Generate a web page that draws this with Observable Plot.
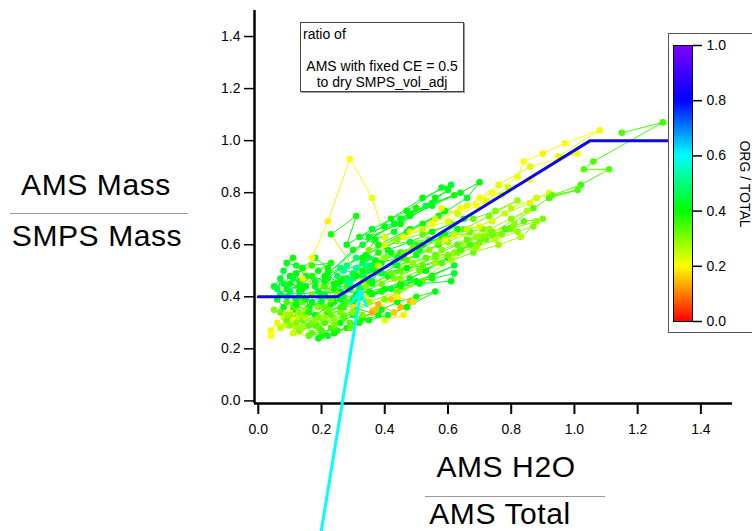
<!DOCTYPE html>
<html><head><meta charset="utf-8">
<script src="https://cdn.jsdelivr.net/npm/d3@7"></script>
<script src="https://cdn.jsdelivr.net/npm/@observablehq/plot@0.6"></script>
<style>
html,body{margin:0;padding:0;background:#fff;}
#wrap{position:relative;width:752px;height:531px;overflow:hidden;font-family:"Liberation Sans",Arial,sans-serif;color:#000;}
#wrap svg{position:absolute;}
#note{position:absolute;left:300px;top:22px;width:162px;height:65px;padding-top:3px;border:1px solid #444;box-shadow:1px 1px 0 #999;background:#fff;font-size:14px;line-height:16px;}
#note .l{padding-left:2px;}
#note .c{text-align:center;}
#legendBox{position:absolute;left:668px;top:33px;width:120px;height:298px;border:1px solid #555;background:#fff;}
#legendTitle{position:absolute;left:745px;top:184px;transform:translate(-50%,-50%) rotate(90deg);white-space:nowrap;font-size:14px;}
</style>
</head><body>
<div id="wrap">
  <div id="note"><div class="l">ratio of</div><div>&nbsp;</div><div class="c">AMS with fixed CE = 0.5</div><div class="c">to dry SMPS_vol_adj</div></div>
  <div id="legendBox"></div>
  <div id="legendTitle">ORG / TOTAL</div>
</div>
<script>
// ---- data: time series of AMS H2O/Total (x), AMS/SMPS mass ratio (y), ORG/TOTAL (colour) ----
const waterFrac = [
  0.05,0.07,0.06,0.08,0.10,0.12,0.11,0.13,0.15,0.12,0.09,0.11,0.08,0.06,0.09,0.13,0.15,0.19,0.23,0.17,0.12,0.16,0.20,0.26,0.23,0.18,
  0.12,0.08,0.10,0.13,0.11,0.09,0.06,0.04,0.04,0.07,0.10,0.14,0.17,0.20,0.23,0.19,0.15,0.11,0.13,0.21,0.26,0.29,
  0.22,0.33,0.45,0.55,0.62,0.50,0.39,0.30,0.42,0.53,0.60,0.48,0.36,0.27,0.38,0.32,
  0.30,0.34,0.38,0.43,0.48,0.46,0.40,0.36,
  0.24,0.28,0.33,0.39,0.44,0.50,0.56,0.47,0.41,0.35,0.30,0.26,0.19,0.22,
  0.14,0.17,0.21,0.25,0.28,0.32,0.27,0.23,0.19,0.15,0.12,0.09,0.07,0.10,0.16,
  0.05,0.09,0.13,0.17,0.21,0.27,0.35,0.44,0.52,0.40,0.31,0.24,0.19,
  0.25,0.28,0.31,0.27,0.33,0.30,0.35,0.32,0.29,
  0.20,0.24,0.28,0.33,0.37,0.42,0.46,0.50,0.44,0.39,0.34,0.29,0.26,0.31,0.36,0.41,0.47,0.30,0.40,0.51,0.61,0.62,0.55,0.45,0.35,
  0.07,0.10,0.14,0.18,0.22,0.25,0.21,0.17,0.13,0.10,0.08,0.12,0.16,0.20,0.24,0.27,0.22,0.18,0.14,0.11,0.09,0.13,0.17,0.21,0.19,0.15,
  0.09,0.12,0.15,0.18,0.21,0.24,0.27,0.30,0.26,0.22,0.18,0.14,0.11,0.16,0.20,0.25,0.29,0.33,0.28,0.23,
  0.22,0.26,0.30,0.34,0.38,0.36,0.32,0.28,0.24,0.27,0.31,0.35,0.39,0.33,
  0.31,0.38,0.45,0.52,0.58,0.63,0.57,0.50,0.43,0.37,0.41,0.48,0.55,0.61,0.65,0.59,0.51,0.44,0.36,0.33,
  0.34,0.42,0.49,0.56,0.63,0.69,0.64,0.58,0.51,0.45,0.39,0.47,0.54,0.60,0.67,0.71,0.62,0.53,
  0.18,0.30,0.43,0.55,0.62,0.48,0.33,0.21,0.34,0.47,0.59,0.52,0.38,0.26,
  0.56,0.63,0.69,0.75,0.82,0.87,0.83,0.76,0.68,0.61,0.66,0.73,0.80,0.85,
  0.42,0.45,0.49,0.44,0.37,
  0.14,0.17,0.22,0.29,0.36,0.40,0.38,0.33,
  0.23,0.31,0.28,0.36,0.47,0.58,0.61,0.52,0.42,0.35,0.45,0.55,0.64,0.70,0.66,0.57,0.48,0.38,0.32,0.40,0.48,0.56,0.60,0.53,0.45,0.50,0.43,0.37,
  0.35,0.44,0.52,0.61,0.68,0.75,0.82,0.73,0.65,0.57,0.49,0.40,0.46,0.54,
  0.40,0.48,0.56,0.64,0.72,0.79,0.86,0.77,0.69,0.60,0.52,0.46,
  0.55,0.66,0.74,0.82,0.84,0.90,0.97,1.08,0.95,1.01,0.86,0.76,0.70,0.63,0.58,
  0.45,0.56,0.64,0.72,0.80,0.84,0.90,0.88,0.74,0.67,0.60,0.52,0.43,
  0.58,0.66,0.74,0.81,0.79,0.71,0.63,0.70,0.77,
  0.62,0.70,0.78,0.86,0.92,0.88,0.80,0.74,0.66,0.59,
  0.78,0.87,0.92,1.01,0.93,1.02,1.11,1.03,1.06,1.28,1.15
];
const massRatio = [
  0.44,0.47,0.39,0.36,0.42,0.39,0.35,0.42,0.48,0.52,0.53,0.55,0.50,0.43,0.40,0.46,0.44,0.50,0.53,0.52,0.49,0.36,0.38,0.42,0.37,0.33,
  0.28,0.32,0.34,0.32,0.31,0.29,0.30,0.27,0.25,0.28,0.33,0.31,0.26,0.25,0.28,0.32,0.35,0.37,0.27,0.30,0.34,0.30,
  0.34,0.40,0.44,0.48,0.52,0.46,0.42,0.38,0.43,0.50,0.55,0.47,0.41,0.37,0.33,0.30,
  0.36,0.40,0.37,0.34,0.38,0.33,0.31,0.34,
  0.26,0.28,0.32,0.35,0.38,0.40,0.42,0.36,0.33,0.31,0.33,0.30,0.24,0.25,
  0.38,0.41,0.44,0.41,0.44,0.42,0.36,0.33,0.36,0.33,0.36,0.38,0.34,0.29,0.29,
  0.35,0.31,0.34,0.30,0.36,0.33,0.38,0.42,0.46,0.39,0.35,0.31,0.28,
  0.48,0.52,0.55,0.50,0.53,0.47,0.50,0.44,0.45,
  0.41,0.45,0.47,0.50,0.54,0.57,0.55,0.60,0.52,0.49,0.46,0.43,0.39,0.41,0.45,0.48,0.51,0.39,0.43,0.45,0.46,0.49,0.47,0.45,0.42,
  0.41,0.45,0.43,0.46,0.49,0.45,0.41,0.38,0.40,0.48,0.45,0.37,0.34,0.40,0.38,0.47,0.51,0.55,0.51,0.47,0.43,0.44,0.48,0.46,0.42,0.39,
  0.33,0.30,0.32,0.29,0.32,0.29,0.32,0.34,0.36,0.35,0.31,0.28,0.26,0.25,0.27,0.27,0.28,0.33,0.38,0.39,
  0.47,0.51,0.49,0.52,0.50,0.46,0.43,0.46,0.43,0.40,0.51,0.55,0.53,0.48,
  0.48,0.53,0.57,0.60,0.63,0.66,0.60,0.56,0.53,0.50,0.58,0.61,0.65,0.68,0.70,0.64,0.58,0.55,0.52,0.55,
  0.44,0.49,0.53,0.56,0.60,0.63,0.58,0.53,0.50,0.47,0.45,0.54,0.58,0.61,0.65,0.66,0.57,0.55,
  0.44,0.58,0.68,0.75,0.79,0.72,0.60,0.48,0.56,0.65,0.73,0.68,0.57,0.46,
  0.53,0.57,0.59,0.62,0.65,0.67,0.63,0.60,0.57,0.54,0.61,0.66,0.70,0.73,
  0.39,0.36,0.38,0.40,0.35,
  0.47,0.55,0.69,0.93,0.78,0.63,0.52,0.46,
  0.64,0.71,0.60,0.66,0.73,0.82,0.83,0.78,0.70,0.63,0.68,0.76,0.80,0.84,0.78,0.71,0.66,0.60,0.63,0.67,0.71,0.78,0.81,0.75,0.70,0.74,0.65,0.62,
  0.58,0.62,0.64,0.68,0.70,0.73,0.77,0.71,0.66,0.61,0.59,0.55,0.57,0.62,
  0.60,0.65,0.70,0.74,0.77,0.82,0.85,0.79,0.75,0.69,0.66,0.63,
  0.68,0.75,0.80,0.86,0.92,0.95,0.99,1.04,0.94,0.95,0.90,0.83,0.78,0.72,0.74,
  0.50,0.55,0.58,0.62,0.66,0.69,0.70,0.69,0.64,0.60,0.56,0.52,0.47,
  0.58,0.62,0.65,0.68,0.66,0.63,0.60,0.61,0.64,
  0.64,0.67,0.72,0.76,0.80,0.78,0.74,0.69,0.66,0.62,
  0.66,0.74,0.78,0.81,0.79,0.83,0.89,0.89,0.92,1.07,1.03
];
const orgFrac = [
  .43,.44,.42,.41,.45,.43,.40,.44,.42,.43,.41,.39,.44,.46,.45,.42,.40,.41,.38,.36,.40,.43,.44,.41,.39,.42,
  .26,.22,.21,.24,.20,.23,.22,.21,.20,.25,.29,.31,.33,.38,.35,.30,.28,.32,.30,.34,.31,.33,
  .40,.42,.39,.41,.43,.40,.38,.41,.44,.40,.39,.42,.40,.43,.41,.39,
  .17,.22,.14,.16,.15,.19,.22,.13,
  .40,.41,.39,.42,.40,.38,.41,.40,.43,.39,.42,.40,.41,.42,
  .33,.31,.35,.30,.34,.32,.36,.33,.30,.34,.31,.35,.32,.29,.33,
  .30,.32,.29,.31,.33,.30,.28,.31,.33,.30,.32,.29,.31,
  .46,.50,.48,.53,.45,.49,.44,.47,.51,
  .42,.40,.44,.38,.41,.43,.40,.37,.42,.44,.39,.41,.43,.40,.38,.42,.40,.41,.40,.42,.41,.43,.39,.40,.41,
  .44,.42,.40,.43,.41,.39,.44,.42,.45,.40,.43,.41,.38,.42,.40,.37,.41,.43,.39,.44,.42,.40,.38,.41,.43,.39,
  .27,.30,.26,.33,.28,.31,.34,.30,.36,.32,.29,.27,.24,.33,.35,.37,.32,.30,.34,.31,
  .44,.48,.46,.50,.45,.43,.47,.49,.42,.45,.52,.47,.44,.46,
  .40,.42,.38,.41,.43,.40,.37,.42,.44,.39,.41,.43,.40,.38,.42,.41,.39,.42,.44,.40,
  .30,.32,.29,.33,.31,.28,.30,.34,.32,.29,.31,.33,.30,.28,.32,.31,.29,.33,
  .42,.40,.43,.41,.39,.42,.44,.40,.41,.43,.40,.42,.39,.41,
  .28,.31,.27,.25,.29,.30,.26,.28,.31,.27,.25,.28,.30,.26,
  .16,.14,.17,.19,.15,
  .21,.20,.19,.20,.21,.23,.24,.26,
  .38,.39,.41,.43,.40,.42,.44,.41,.39,.42,.40,.43,.41,.40,.42,.44,.41,.40,.42,.43,.41,.40,.42,.44,.41,.39,.42,.40,
  .31,.30,.33,.29,.32,.30,.28,.31,.33,.30,.32,.29,.31,.34,
  .22,.21,.23,.20,.22,.24,.21,.23,.20,.22,.25,.21,
  .21,.22,.20,.21,.20,.19,.20,.21,.22,.20,.23,.22,.21,.24,.22,
  .33,.31,.34,.32,.30,.33,.31,.29,.32,.34,.31,.33,.30,
  .30,.33,.31,.29,.32,.30,.33,.31,.30,
  .24,.22,.25,.23,.22,.24,.26,.23,.25,.22,
  .34,.33,.35,.34,.33,.35,.34,.33,.34,.35,.34
];
// model curve (blue line)
const modelX = [0, 0.25, 1.05, 1.5];
const modelY = [0.4, 0.4, 1.0, 1.0];
// cyan arrow (from, to)
const arrowFrom = [0.191, -0.56];
const arrowTo = [0.324, 0.422];
// ticks
const axisTicks = [0, 0.2, 0.4, 0.6, 0.8, 1.0, 1.2, 1.4];
const legendTicks = [0, 0.2, 0.4, 0.6, 0.8, 1.0];
const rainbow = ["#ff0000", "#ffff00", "#00ff00", "#00ffff", "#0000ff", "#8000ff"];

const n = Math.min(waterFrac.length, massRatio.length, orgFrac.length);
const points = d3.range(n).map(i => ({x: waterFrac[i], y: massRatio[i], c: orgFrac[i]}));
const segments = d3.range(n - 1).map(i => ({x1: waterFrac[i], y1: massRatio[i], x2: waterFrac[i + 1], y2: massRatio[i + 1], c: orgFrac[i]}));
const model = modelX.map((x, i) => ({x, y: modelY[i]}));
const pw = d3.piecewise(d3.interpolateRgb, rainbow);
const colorOpts = {type: "linear", domain: [0, 1], interpolate: t => pw(t)};
const fmt = d3.format(".1f");
const font = '"Liberation Sans", Arial, sans-serif';

const chart = Plot.plot({
  width: 752, height: 531,
  marginLeft: 254, marginRight: 20, marginTop: 10, marginBottom: 128,
  style: {fontFamily: font, fontSize: "14px", background: "transparent", overflow: "visible"},
  x: {domain: [-0.012, 1.5]},
  y: {domain: [-0.01, 1.5]},
  color: colorOpts,
  marks: [
    Plot.link(segments, {x1: "x1", y1: "y1", x2: "x2", y2: "y2", stroke: "c", strokeWidth: 1, clip: true}),
    Plot.dot(points, {x: "x", y: "y", fill: "c", r: 3.3, clip: true}),
    Plot.line(model, {x: "x", y: "y", stroke: "#0a0ae6", strokeWidth: 3}),
    Plot.ruleX([-0.012], {strokeWidth: 2.5}),
    Plot.ruleY([-0.01], {strokeWidth: 2.5}),
    Plot.axisY({ticks: axisTicks, tickFormat: fmt, tickSize: 10, tickPadding: 4, fontSize: 14, strokeWidth: 1.5, label: null}),
    Plot.axisX({ticks: axisTicks, tickFormat: fmt, tickSize: 11, tickPadding: 10, fontSize: 14, strokeWidth: 2, label: null}),
    Plot.arrow([{x1: arrowFrom[0], y1: arrowFrom[1], x2: arrowTo[0], y2: arrowTo[1]}],
      {x1: "x1", y1: "y1", x2: "x2", y2: "y2", stroke: "#00ffff", strokeWidth: 3})
  ]
});
chart.style.left = "0px"; chart.style.top = "0px";
const wrap = document.getElementById("wrap");
wrap.insertBefore(chart, wrap.firstChild);

// axis titles as fractions
const svg = d3.select(chart);
const titles = svg.append("g").attr("font-family", font).attr("fill", "#000");
function frac(cx, top, bottom, lineY, x1, x2, topBase, botBase) {
  titles.append("text").attr("x", cx[0]).attr("y", topBase).attr("text-anchor", "middle")
    .attr("font-size", 30).attr("letter-spacing", 0.6).text(top);
  titles.append("line").attr("x1", x1).attr("x2", x2).attr("y1", lineY).attr("y2", lineY)
    .attr("stroke", "#999").attr("stroke-width", 1);
  titles.append("text").attr("x", cx[1]).attr("y", botBase).attr("text-anchor", "middle")
    .attr("font-size", 30).attr("letter-spacing", 0.6).text(bottom);
}
frac([96, 97], "AMS Mass", "SMPS Mass", 213.5, 10, 188, 195, 246);
frac([506, 500], "AMS H2O", "AMS Total", 496.5, 425, 605, 477, 524);

// colour bar legend
const legend = Plot.plot({
  width: 84, height: 300,
  marginLeft: 5, marginRight: 60, marginTop: 12, marginBottom: 12,
  style: {fontFamily: font, fontSize: "14px", background: "transparent", overflow: "visible"},
  x: {domain: [0, 1], axis: null},
  y: {domain: [0, 1]},
  color: colorOpts,
  marks: [
    Plot.rect(d3.range(0, 1, 0.01), {x1: 0, x2: 1, y1: d => d, y2: d => Math.min(1, d + 0.013), fill: d => d + 0.005}),
    Plot.frame({stroke: "#000", strokeWidth: 1}),
    Plot.axisY({anchor: "right", ticks: legendTicks, tickFormat: fmt, tickSize: 9, tickPadding: 5, fontSize: 14, strokeWidth: 1.5, label: null})
  ]
});
legend.style.left = "668px"; legend.style.top = "33px";
wrap.insertBefore(legend, document.getElementById("legendTitle"));
</script>
</body></html>
